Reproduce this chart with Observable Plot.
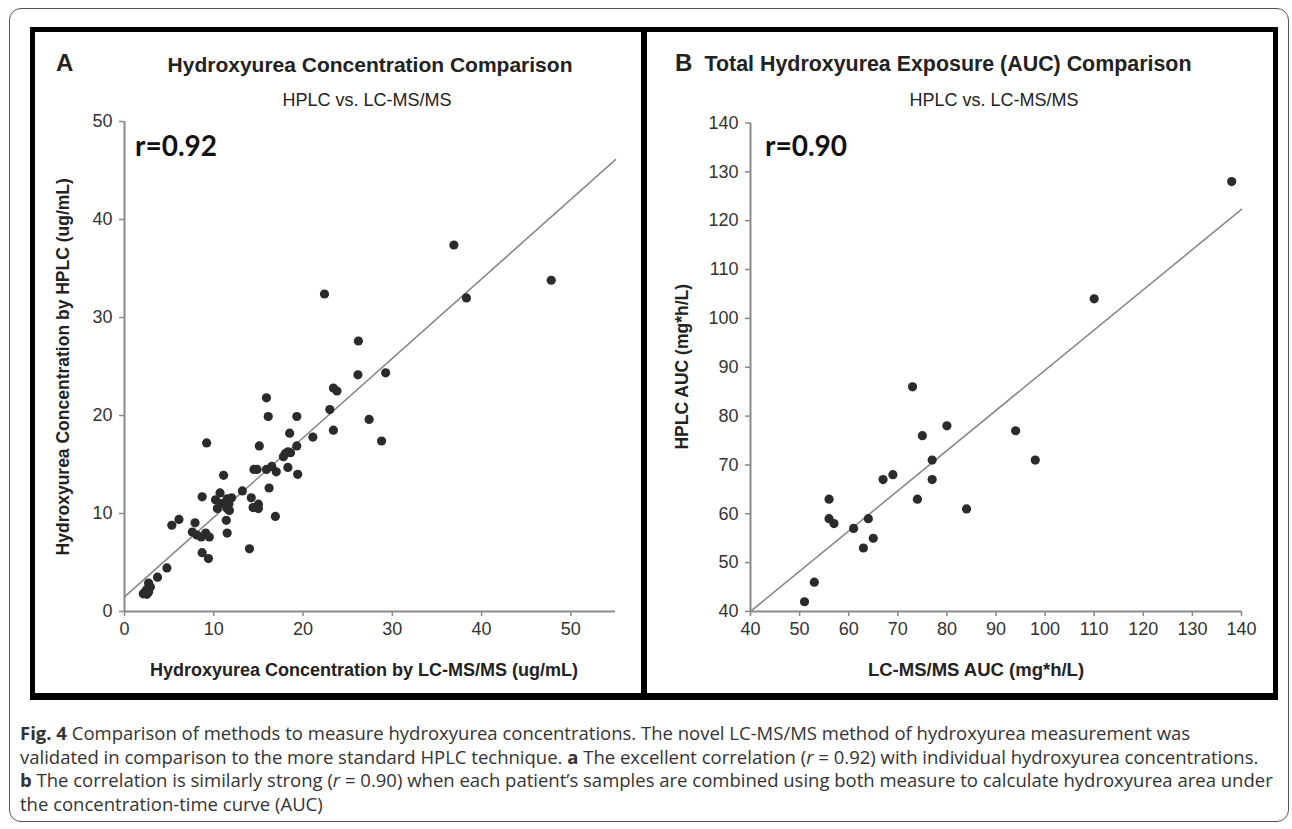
<!DOCTYPE html>
<html><head><meta charset="utf-8">
<script src="https://cdn.jsdelivr.net/npm/d3@7"></script>
<script src="https://cdn.jsdelivr.net/npm/@observablehq/plot@0.6"></script>
<style>
html,body{margin:0;padding:0;background:#fff;}
body{width:1292px;height:829px;overflow:hidden;position:relative;font-family:"Liberation Sans",Arial,sans-serif;color:#222;}
.abs{position:absolute;}
.ctr{position:absolute;text-align:center;white-space:nowrap;line-height:1;}
.rval{position:absolute;font-family:Lato,"Open Sans",sans-serif;font-weight:700;font-size:28px;line-height:1;color:#111;}
.ytitle{position:absolute;width:600px;text-align:center;white-space:nowrap;line-height:1;font-weight:700;font-size:17.5px;transform:rotate(-90deg);transform-origin:50% 50%;}
#caption{position:absolute;left:20px;top:721px;font-family:"Open Sans",sans-serif;font-size:18.5px;line-height:23.5px;color:#333;white-space:nowrap;}
</style></head><body>
<div class="abs" style="left:9px;top:8px;width:1280px;height:814px;border:1.5px solid #555;border-radius:12px;box-sizing:border-box"></div>
<div class="abs" style="left:30px;top:27px;width:1248px;height:673px;border:5px solid #000;border-bottom-width:7px;box-sizing:border-box"></div>
<div class="abs" style="left:641px;top:27px;width:6px;height:673px;background:#000"></div>

<div class="abs" style="left:56px;top:51px;font-weight:700;font-size:24px;line-height:1">A</div>
<div class="ctr" style="left:70px;width:600px;top:54px;font-weight:700;font-size:21px">Hydroxyurea Concentration Comparison</div>
<div class="ctr" style="left:67px;width:600px;top:91px;font-size:18px">HPLC vs. LC-MS/MS</div>
<div class="abs" style="left:675px;top:51px;font-weight:700;font-size:24px;line-height:1">B</div>
<div class="ctr" style="left:648px;width:600px;top:54px;font-weight:700;font-size:21.4px">Total Hydroxyurea Exposure (AUC) Comparison</div>
<div class="ctr" style="left:694px;width:600px;top:91px;font-size:18px">HPLC vs. LC-MS/MS</div>

<div id="plotA" class="abs" style="left:34px;top:110px"></div>
<div id="plotB" class="abs" style="left:648px;top:110px"></div>

<div class="rval" style="left:135px;top:131px">r=0.92</div>
<div class="rval" style="left:765px;top:131px">r=0.90</div>

<div class="ctr" style="left:64px;width:600px;top:661px;font-weight:700;font-size:18px">Hydroxyurea Concentration by LC-MS/MS (ug/mL)</div>
<div class="ctr" style="left:676px;width:600px;top:661px;font-weight:700;font-size:18.5px">LC-MS/MS AUC (mg*h/L)</div>
<div class="ytitle" style="left:-236px;top:358px">Hydroxyurea Concentration by HPLC (ug/mL)</div>
<div class="ytitle" style="left:383px;top:358px">HPLC AUC (mg*h/L)</div>

<div id="caption"><b>Fig. 4</b> Comparison of methods to measure hydroxyurea concentrations. The novel LC-MS/MS method of hydroxyurea measurement was<br>validated in comparison to the more standard HPLC technique. <b>a</b> The excellent correlation (<i>r</i> = 0.92) with individual hydroxyurea concentrations.<br><b>b</b> The correlation is similarly strong (<i>r</i> = 0.90) when each patient’s samples are combined using both measure to calculate hydroxyurea area under<br>the concentration-time curve (AUC)</div>

<script>
// Panel A: individual concentrations (LC-MS/MS vs HPLC), ug/mL
const aX = [22.4, 26.2, 26.15, 29.25, 23.4, 23.8, 23.0, 23.4, 27.4, 28.8, 15.9, 16.1, 19.3, 9.2, 15.1, 19.3, 21.1, 18.5, 18.0, 18.3, 17.8, 18.6, 18.3, 19.4, 14.5, 14.85, 15.9, 16.5, 17.0, 16.2, 16.9, 11.1, 13.2, 14.2, 14.4, 15.0, 15.0, 14.0, 8.7, 10.7, 10.2, 10.4, 10.9, 11.5, 11.7, 12.0, 11.5, 11.75, 11.4, 11.5, 5.3, 6.1, 7.9, 7.6, 8.1, 8.6, 9.1, 9.5, 8.7, 9.4, 4.75, 3.7, 2.7, 2.9, 2.5, 2.3, 2.1, 2.5, 2.7, 36.9, 38.3, 47.8];
const aY = [32.4, 27.6, 24.15, 24.35, 22.8, 22.5, 20.6, 18.5, 19.6, 17.4, 21.8, 19.9, 19.9, 17.2, 16.9, 16.9, 17.8, 18.2, 16.1, 16.3, 15.8, 16.2, 14.7, 14.0, 14.5, 14.5, 14.5, 14.8, 14.25, 12.6, 9.7, 13.9, 12.3, 11.6, 10.6, 10.95, 10.5, 6.4, 11.7, 12.1, 11.4, 10.5, 11.0, 10.5, 11.0, 11.6, 11.5, 10.3, 9.3, 8.0, 8.8, 9.4, 9.05, 8.1, 7.8, 7.6, 8.0, 7.6, 6.0, 5.4, 4.45, 3.5, 2.9, 2.5, 2.25, 2.0, 1.8, 1.75, 2.0, 37.4, 32.0, 33.8];
const aDomainX = [0, 55];
const aDomainY = [0, 50];
const aTicksX = [0, 10, 20, 30, 40, 50];
const aTicksY = [0, 10, 20, 30, 40, 50];
const aFit = [1.5, 0.811]; // intercept, slope of drawn trend line

// Panel B: AUC (LC-MS/MS vs HPLC), mg*h/L
const bX = [138, 110, 73, 80, 75, 94, 77, 98, 67, 69, 77, 56, 74, 84, 56, 57, 64, 61, 65, 63, 53, 51];
const bY = [128, 104, 86, 78, 76, 77, 71, 71, 67, 68, 67, 63, 63, 61, 59, 58, 59, 57, 55, 53, 46, 42];
const bDomainX = [40, 140];
const bDomainY = [40, 140];
const bTicksX = [40, 50, 60, 70, 80, 90, 100, 110, 120, 130, 140];
const bTicksY = [40, 50, 60, 70, 80, 90, 100, 110, 120, 130, 140];
const bFit = [7.1, 0.823];

const AXIS = "#8a8a8a";
const DOT = "#2b2b2b";

function panel(xs, ys, dx, dy, tx, ty, fit, dims) {
  const pts = xs.map((x, i) => ({x, y: ys[i]}));
  const line = dx.map(x => ({x, y: fit[0] + fit[1] * x}));
  return Plot.plot({
    width: dims.w, height: dims.h,
    marginLeft: dims.ml, marginRight: dims.mr, marginTop: dims.mt, marginBottom: dims.mb,
    x: {domain: dx, ticks: tx},
    y: {domain: dy, ticks: ty},
    style: {fontFamily: '"Liberation Sans", Arial, sans-serif', fontSize: "18px", color: "#333", background: "transparent", overflow: "visible"},
    marks: [
      Plot.axisX({ticks: tx, tickSize: 5, tickPadding: 6, stroke: AXIS, strokeWidth: 1.5, label: null, fontSize: 18}),
      Plot.axisY({ticks: ty, tickSize: 5, tickPadding: 7, stroke: AXIS, strokeWidth: 1.5, label: null, fontSize: 18}),
      Plot.ruleX([dx[0]], {stroke: AXIS, strokeWidth: 2}),
      Plot.ruleY([dy[0]], {stroke: AXIS, strokeWidth: 2}),
      Plot.line(line, {x: "x", y: "y", stroke: AXIS, strokeWidth: 1.6}),
      Plot.dot(pts, {x: "x", y: "y", r: 4.6, fill: DOT, stroke: "none"})
    ]
  });
}

document.getElementById("plotA").append(
  panel(aX, aY, aDomainX, aDomainY, aTicksX, aTicksY, aFit, {w: 606, h: 580, ml: 90, mr: 25, mt: 11, mb: 79})
);
document.getElementById("plotB").append(
  panel(bX, bY, bDomainX, bDomainY, bTicksX, bTicksY, bFit, {w: 628, h: 580, ml: 102, mr: 35, mt: 12.5, mb: 79})
);
</script>
</body></html>
